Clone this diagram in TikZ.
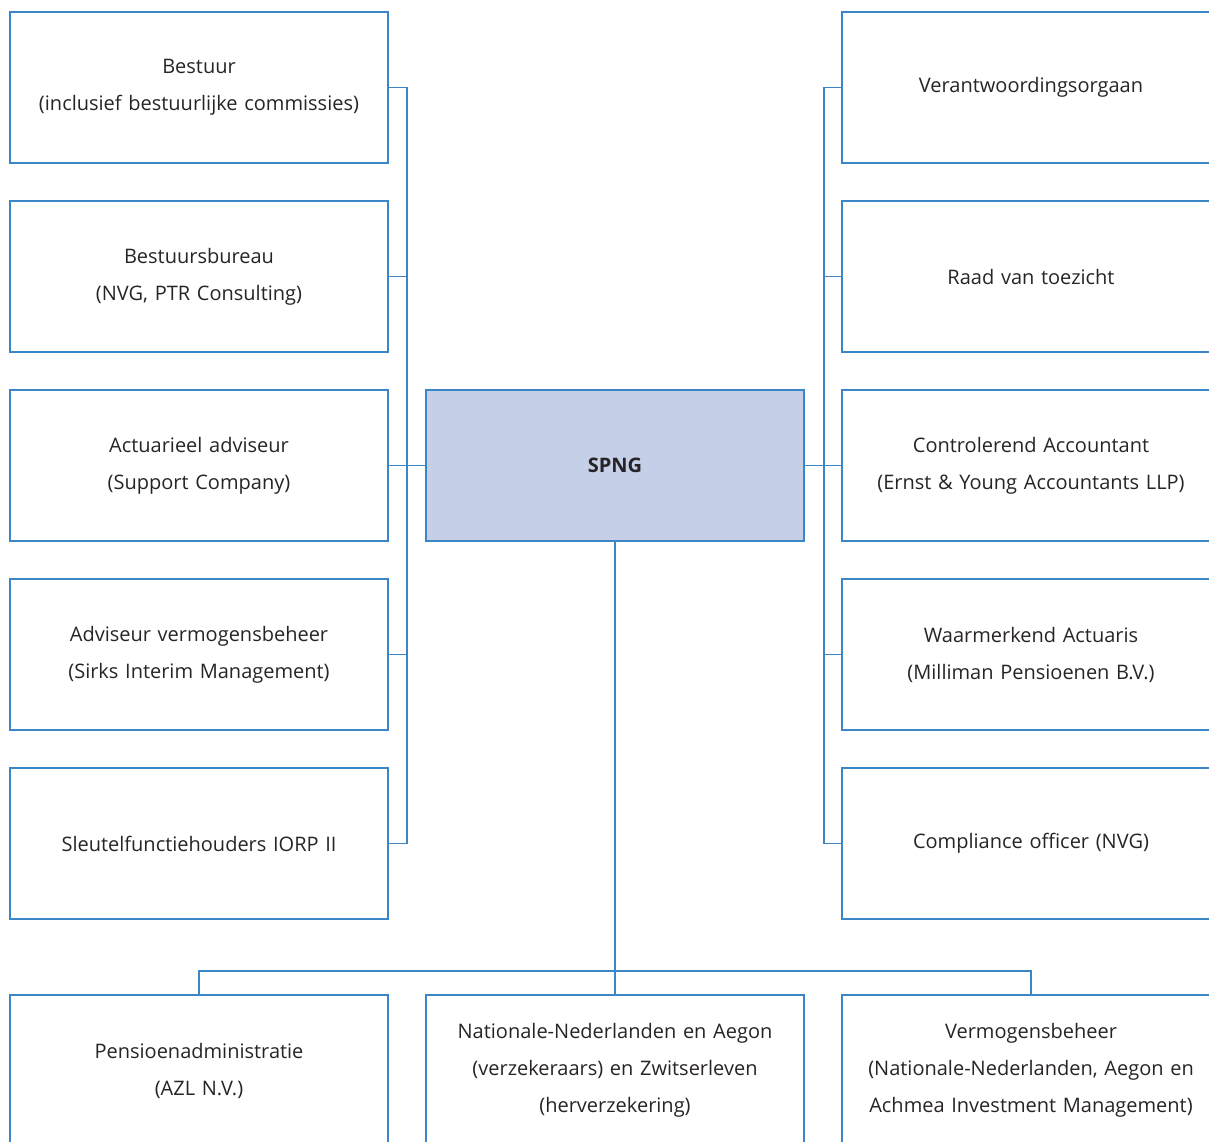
\documentclass[tikz,border=0pt]{standalone}
\usepackage{fontspec}
\setmainfont{Open Sans}
\usetikzlibrary{positioning}
\definecolor{orgblue}{RGB}{58,134,198}
\definecolor{orgfill}{RGB}{197,208,232}
\definecolor{orgtext}{RGB}{40,36,37}
\tikzstyle{boxes} = [rectangle, minimum width=378pt, minimum height=151pt, text centered, text
width=370pt, draw=orgblue, line width=1.2pt, outer sep=0pt, text=orgtext, font=\fontsize{20}{37}\selectfont]
\tikzstyle{link} = [draw=orgblue, line width=1.2pt]

\begin{document}
\begin{tikzpicture}
            \useasboundingbox (0,0) rectangle (1209pt,-1141pt);
            % left column
            \node(bestuur) [boxes] at (199pt,-87.5pt) {Bestuur\\(inclusief bestuurlijke commissies)};
            \node(bureau) [boxes, below=38pt of bestuur] {Bestuursbureau\\(NVG, PTR Consulting)};
            \node(actuarieel) [boxes, below=38pt of bureau] {Actuarieel adviseur\\(Support Company)};
            \node(adviseur) [boxes, below=38pt of actuarieel] {Adviseur vermogensbeheer\\(Sirks Interim Management)};
            \node(sleutel) [boxes, below=38pt of adviseur] {Sleutelfunctiehouders IORP II};
            % centre
            \node(spng) [boxes, fill=orgfill, right=38pt of actuarieel] {\textbf{SPNG}};
            % right column
            \node(verantw) [boxes] at (1031pt,-87.5pt) {Verantwoordingsorgaan};
            \node(raad) [boxes, below=38pt of verantw] {Raad van toezicht};
            \node(accountant) [boxes, below=38pt of raad] {Controlerend Accountant\\(Ernst \& Young Accountants LLP)};
            \node(waarmerk) [boxes, below=38pt of accountant] {Waarmerkend Actuaris\\(Milliman Pensioenen B.V.)};
            \node(compliance) [boxes, below=38pt of waarmerk] {Compliance officer (NVG)};
            % bottom row
            \node(pensioen) [boxes] at (199pt,-1070.5pt) {Pensioenadministratie\\(AZL N.V.)};
            \node(verzekeraars) [boxes, right=38pt of pensioen] {Nationale-Nederlanden en Aegon\\(verzekeraars) en Zwitserleven\\(herverzekering)};
            \node(vermbeheer) [boxes, right=38pt of verzekeraars] {Vermogensbeheer\\(Nationale-Nederlanden, Aegon en\\Achmea Investment Management)};
            % connectors
            \draw[link] (bestuur.east) -- ++(19pt,0) |- (sleutel.east);
            \foreach \n in {bureau, adviseur}
                \draw[link] (\n.east) -- ++(19pt,0);
            \draw[link] (actuarieel.east) -- (spng.west);
            \draw[link] (verantw.west) -- ++(-18pt,0) |- (compliance.west);
            \foreach \n in {raad, waarmerk}
                \draw[link] (\n.west) -- ++(-18pt,0);
            \draw[link] (spng.east) -- (accountant.west);
            \draw[link] (spng.south) -- (verzekeraars.north);
            \draw[link] (pensioen.north) -- ++(0,24pt) -| (vermbeheer.north);
        \end{tikzpicture}
\end{document}
